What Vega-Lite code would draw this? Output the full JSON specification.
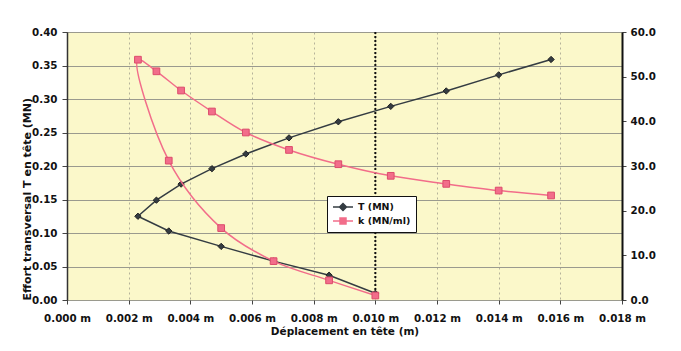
{
  "$schema": "https://vega.github.io/schema/vega-lite/v6.json",
  "width": 555,
  "height": 268,
  "autosize": {"type": "none"},
  "padding": {"left": 67, "top": 32, "right": 59, "bottom": 51},
  "background": "white",
  "config": {
    "font": "DejaVu Sans",
    "view": {"fill": "#FBF8CA", "stroke": "#555555", "strokeWidth": 1},
    "axis": {
      "labelFont": "DejaVu Sans",
      "labelFontWeight": "bold",
      "labelFontSize": 10.3,
      "labelColor": "#111111",
      "titleFont": "DejaVu Sans",
      "titleFontWeight": "bold",
      "titleFontSize": 10.5,
      "titleColor": "#111111",
      "tickColor": "#444444"
    }
  },
  "data": {
    "values": [
      {"i": 1, "x": 0.0100, "series": "T (MN)", "v": 0.010},
      {"i": 2, "x": 0.0085, "series": "T (MN)", "v": 0.037},
      {"i": 3, "x": 0.0067, "series": "T (MN)", "v": 0.058},
      {"i": 4, "x": 0.0050, "series": "T (MN)", "v": 0.080},
      {"i": 5, "x": 0.0033, "series": "T (MN)", "v": 0.103},
      {"i": 6, "x": 0.0023, "series": "T (MN)", "v": 0.125},
      {"i": 7, "x": 0.0029, "series": "T (MN)", "v": 0.149},
      {"i": 8, "x": 0.0037, "series": "T (MN)", "v": 0.173},
      {"i": 9, "x": 0.0047, "series": "T (MN)", "v": 0.196},
      {"i": 10, "x": 0.0058, "series": "T (MN)", "v": 0.218},
      {"i": 11, "x": 0.0072, "series": "T (MN)", "v": 0.242},
      {"i": 12, "x": 0.0088, "series": "T (MN)", "v": 0.266},
      {"i": 13, "x": 0.0105, "series": "T (MN)", "v": 0.289},
      {"i": 14, "x": 0.0123, "series": "T (MN)", "v": 0.312},
      {"i": 15, "x": 0.0140, "series": "T (MN)", "v": 0.336},
      {"i": 16, "x": 0.0157, "series": "T (MN)", "v": 0.359},
      {"i": 1, "x": 0.0100, "series": "k (MN/ml)", "v": 1.0},
      {"i": 2, "x": 0.0085, "series": "k (MN/ml)", "v": 4.4},
      {"i": 3, "x": 0.0067, "series": "k (MN/ml)", "v": 8.7},
      {"i": 4, "x": 0.0050, "series": "k (MN/ml)", "v": 16.1},
      {"i": 5, "x": 0.0033, "series": "k (MN/ml)", "v": 31.2},
      {"i": 6, "x": 0.0023, "series": "k (MN/ml)", "v": 53.8},
      {"i": 7, "x": 0.0029, "series": "k (MN/ml)", "v": 51.2},
      {"i": 8, "x": 0.0037, "series": "k (MN/ml)", "v": 46.9},
      {"i": 9, "x": 0.0047, "series": "k (MN/ml)", "v": 42.2},
      {"i": 10, "x": 0.0058, "series": "k (MN/ml)", "v": 37.5},
      {"i": 11, "x": 0.0072, "series": "k (MN/ml)", "v": 33.6},
      {"i": 12, "x": 0.0088, "series": "k (MN/ml)", "v": 30.4},
      {"i": 13, "x": 0.0105, "series": "k (MN/ml)", "v": 27.8},
      {"i": 14, "x": 0.0123, "series": "k (MN/ml)", "v": 26.0},
      {"i": 15, "x": 0.0140, "series": "k (MN/ml)", "v": 24.5},
      {"i": 16, "x": 0.0157, "series": "k (MN/ml)", "v": 23.4}
    ]
  },
  "layer": [
    {
      "data": {"values": [{"x": 0.01}]},
      "mark": {"type": "rule", "color": "#111111", "strokeWidth": 2, "strokeDash": [2, 2]},
      "encoding": {
        "x": {
          "field": "x", "type": "quantitative",
          "scale": {"domain": [0, 0.018], "nice": false, "zero": false},
          "axis": {
            "values": [0, 0.002, 0.004, 0.006, 0.008, 0.01, 0.012, 0.014, 0.016, 0.018],
            "labelExpr": "format(datum.value, '.3f') + ' m'",
            "title": "Déplacement en tête (m)",
            "grid": true, "gridColor": "#b5b39a", "gridDash": [2, 3],
            "tickSize": 4, "labelPadding": 9, "titlePadding": 3, "domain": false,
            "labelFlush": false
          }
        }
      }
    },
    {
      "transform": [{"filter": "datum.series === 'T (MN)'"}],
      "encoding": {
        "x": {
          "field": "x", "type": "quantitative",
          "scale": {"domain": [0, 0.018], "nice": false, "zero": false},
          "axis": {
            "values": [0, 0.002, 0.004, 0.006, 0.008, 0.01, 0.012, 0.014, 0.016, 0.018],
            "labelExpr": "format(datum.value, '.3f') + ' m'",
            "title": "Déplacement en tête (m)",
            "grid": true, "gridColor": "#b5b39a", "gridDash": [2, 3],
            "tickSize": 4, "labelPadding": 9, "titlePadding": 3, "domain": false,
            "labelFlush": false
          }
        },
        "y": {
          "field": "v", "type": "quantitative",
          "scale": {"domain": [0, 0.4], "nice": false},
          "axis": {
            "orient": "left",
            "title": "Effort transversal T en tête (MN)",
            "values": [0, 0.05, 0.1, 0.15, 0.2, 0.25, 0.3, 0.35, 0.4],
            "format": ".2f",
            "grid": true, "gridColor": "#9a9a8e",
            "tickSize": 5, "labelPadding": 5,
            "domainColor": "#333333", "domainWidth": 1.5,
            "titleFontSize": 11,
            "titleAnchor": "start",
            "titleAngle": 270, "titleX": -40,
            "titleBaseline": "middle",
            "labelFlush": false
          }
        },
        "order": {"field": "i", "type": "quantitative"},
        "color": {
          "field": "series", "type": "nominal",
          "scale": {"domain": ["T (MN)", "k (MN/ml)"], "range": ["#343c42", "#F26D8A"]}
        }
      },
      "layer": [
        {"mark": {"type": "line", "strokeWidth": 1.5}},
        {
          "mark": {"type": "point", "shape": "diamond", "filled": true, "size": 40, "stroke": "#222222", "strokeWidth": 1, "opacity": 1}
        },
        {
          "transform": [{"filter": "datum.i < 0"}],
          "mark": {"type": "point", "filled": true, "size": 100, "strokeWidth": 1.5, "opacity": 1},
          "encoding": {
            "shape": {
              "field": "series", "type": "nominal",
              "scale": {"domain": ["T (MN)", "k (MN/ml)"], "range": ["M-2,0H2M-0.7,0L0,-0.7L0.7,0L0,0.7Z", "M-2,0H2M-0.6,-0.6H0.6V0.6H-0.6Z"]},
              "legend": {
                "title": null,
                "orient": "none",
                "legendX": 260,
                "legendY": 164,
                "fillColor": "white",
                "strokeColor": "#111111",
                "padding": 5,
                "symbolOffset": 5,
                "symbolSize": 100,
                "symbolStrokeWidth": 1.5,
                "labelOffset": 9,
                "rowPadding": 1,
                "labelFont": "DejaVu Sans",
                "labelFontWeight": "bold",
                "labelFontSize": 9.5,
                "labelColor": "#111111"
              }
            },
            "stroke": {
              "field": "series", "type": "nominal",
              "scale": {"domain": ["T (MN)", "k (MN/ml)"], "range": ["#343c42", "#F26D8A"]}
            }
          }
        }
      ]
    },
    {
      "transform": [{"filter": "datum.series === 'k (MN/ml)'"}],
      "encoding": {
        "x": {
          "field": "x", "type": "quantitative",
          "scale": {"domain": [0, 0.018], "nice": false, "zero": false},
          "axis": {
            "values": [0, 0.002, 0.004, 0.006, 0.008, 0.01, 0.012, 0.014, 0.016, 0.018],
            "labelExpr": "format(datum.value, '.3f') + ' m'",
            "title": "Déplacement en tête (m)",
            "grid": true, "gridColor": "#b5b39a", "gridDash": [2, 3],
            "tickSize": 4, "labelPadding": 9, "titlePadding": 3, "domain": false,
            "labelFlush": false
          }
        },
        "y": {
          "field": "v", "type": "quantitative",
          "scale": {"domain": [0, 60], "nice": false},
          "axis": {
            "orient": "right",
            "title": null,
            "values": [0, 10, 20, 30, 40, 50, 60],
            "format": ".1f",
            "grid": false,
            "tickSize": 4, "labelPadding": 4,
            "domainColor": "#111111", "domainWidth": 2,
            "labelFlush": false
          }
        },
        "order": {"field": "i", "type": "quantitative"},
        "color": {
          "field": "series", "type": "nominal",
          "scale": {"domain": ["T (MN)", "k (MN/ml)"], "range": ["#343c42", "#F26D8A"]}
        }
      },
      "layer": [
        {"mark": {"type": "line", "strokeWidth": 1.5, "interpolate": "catmull-rom"}},
        {
          "mark": {"type": "point", "shape": "square", "filled": true, "size": 45, "stroke": "#dc4c6c", "strokeWidth": 1, "opacity": 1}
        }
      ]
    }
  ],
  "resolve": {"scale": {"y": "independent"}}
}
